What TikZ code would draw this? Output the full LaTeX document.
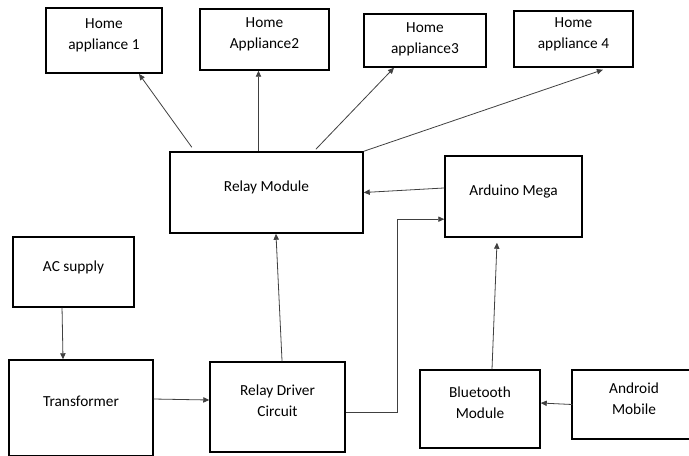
\documentclass[tikz,border=0pt]{standalone}
\usepackage{fontspec}
\setmainfont{Carlito}
\usetikzlibrary{arrows.meta, positioning}
\tikzset{
	% Define standard arrow tip
	>={Triangle[length=4.5pt, width=4pt]},
	% block style
	blk/.style={
		draw,
		line width=1.1pt,
		inner sep=0pt,
		align=center,
		text depth=9.5pt,
		font=\fontsize{11.5pt}{15.75pt}\selectfont
	},
	% Define arrow style
	pil/.style={
		->,
		line width=0.6pt,
		draw=black!75
	}
}

\begin{document}
\begin{tikzpicture}[x=0.75pt, y=-0.75pt]
\useasboundingbox (0,0) rectangle (689,455);
\clip (0,0) rectangle (689,455);

\node[blk, minimum width=87pt, minimum height=48.75pt] at (104,40.7) (ha1) {Home\\appliance 1};
\node[blk, minimum width=96.75pt, minimum height=45.75pt] at (264.5,39.5) (ha2) {Home\\Appliance2};
\node[blk, minimum width=91.5pt, minimum height=39.75pt, text depth=4pt] at (425,40.5) (ha3) {Home\\appliance3};
\node[blk, minimum width=89.25pt, minimum height=42pt] at (573.5,39) (ha4) {Home\\appliance 4};

\node[blk, minimum width=144.75pt, minimum height=60.75pt] at (266.5,192.5) (relay) {Relay Module};
\node[blk, minimum width=102.75pt, minimum height=60.75pt] at (513.5,196.5) (arduino) {Arduino Mega};

\node[blk, minimum width=90.75pt, minimum height=52.5pt] at (73.5,272) (ac) {AC supply};
\node[blk, minimum width=108pt, minimum height=72pt] at (81,408) (trans) {Transformer};
\node[blk, minimum width=101.25pt, minimum height=67.5pt] at (277.5,407) (driver) {Relay Driver\\Circuit};
\node[blk, minimum width=90pt, minimum height=58.5pt] at (480,409) (bt) {Bluetooth\\Module};
\node[blk, draw=none, minimum width=91.5pt, minimum height=50.25pt] at (634,404.5) (android) {Android\\Mobile};
% android box runs off the right edge
\draw[line width=1.3pt] (android.north east) -- (android.north west) -- (android.south west) -- (android.south east);

% relay module to the appliances
\draw[pil] ([xshift=-56pt, yshift=3pt]relay.north) -- ([xshift=26.25pt]ha1.south);
\draw[pil] ([xshift=-6pt]relay.north) -- ([xshift=-6pt]relay.north |- ha2.south);
\draw[pil] ([xshift=37pt, yshift=1.5pt]relay.north) -- ([xshift=-23.25pt]ha3.south);
\draw[pil] (relay.north east) -- ([xshift=22pt, yshift=-1.5pt]ha4.south);

% control
\draw[pil] ([yshift=6.4pt]arduino.west) -- (relay.east);
\draw[pil] ([yshift=-4pt]driver.east) -- ++(52,0) |- ([yshift=-17pt]arduino.west);
\draw[pil] ([xshift=3.4pt]driver.north) -- ([xshift=7.1pt]relay.south);
\draw[pil] ([xshift=9pt]bt.north) -- ([xshift=-12.4pt, yshift=-3.75pt]arduino.south);
\draw[pil] (android.west) -- ([yshift=4.5pt]bt.east);

% supply
\draw[pil] ([xshift=-8.6pt]ac.south) -- ([xshift=-13.5pt]trans.north);
\draw[pil] ([yshift=6.75pt]trans.east) -- ([yshift=5.25pt]driver.west);

\end{tikzpicture}
\end{document}
